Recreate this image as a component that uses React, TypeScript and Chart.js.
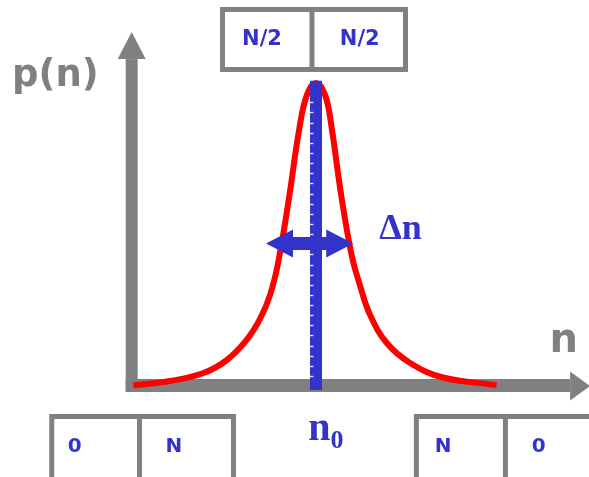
import { useEffect, useRef } from "react";
import { Chart, registerables } from "chart.js";

Chart.register(...registerables);

const WIDTH = 589;
const HEIGHT = 477;

// Probability distribution p(n), sampled along n
const nValues = [0, 10, 19, 25.5, 31, 34.7, 37.4, 39.6, 42.6, 45.3, 47.5, 50, 52.5, 54.2, 56.9, 59.8, 62.1, 64.8, 69.4, 75.8, 84.8, 99.5];
const pValues = [0.002, 0.0165, 0.042, 0.085, 0.152, 0.222, 0.3, 0.405, 0.62, 0.84, 0.96, 1.0, 0.96, 0.86, 0.63, 0.43, 0.33, 0.235, 0.142, 0.076, 0.028, 0.003];

// Most probable value n0 and the width Δn
const n0 = 50;
const deltaN = [36.3, 60.2];
const deltaNLevel = 0.47;

// Partition boxes: labels of the two halves
const topBoxLabels = ["N/2", "N/2"];
const leftBoxLabels = ["0", "N"];
const rightBoxLabels = ["N", "0"];

// Axis labels
const yAxisLabel = "p(n)";
const xAxisLabel = "n";
const widthLabel = "Δn";

const GRAY = "#808080";
const BLUE = "#3333CC";
const RED = "#FF0000";

// Scale windows (n horizontally, p vertically)
const N_MIN = -36.58;
const N_MAX = 124.8;
const P_MIN = -0.3003;
const P_MAX = 1.2739;

// Annotation placement, in (n, p) units
const AXIS_N = -0.5;
const Y_AXIS_TIP_P = 1.168;
const X_AXIS_TIP_N = 125.1;

type Box = { n1: number; n2: number; p1: number; p2: number; divN: number; textN: number[]; textP: number; labels: string[]; size: number };

const boxes: Box[] = [
  { n1: 24.38, n2: 74.52, p1: 1.2426, p2: 1.0446, divN: 48.9, textN: [35.2, 62.0], textP: 1.142, labels: topBoxLabels, size: 21 },
  { n1: -22.4, n2: 27.4, p1: -0.1007, p2: -0.33, divN: 1.64, textN: [-16.1, 11.04], textP: -0.2003, labels: leftBoxLabels, size: 20 },
  { n1: 77.5, n2: 128, p1: -0.1007, p2: -0.33, divN: 101.9, textN: [84.8, 111.0], textP: -0.2003, labels: rightBoxLabels, size: 20 },
];

const decorations = {
  id: "decorations",
  beforeDatasetsDraw(chart: any) {
    const ctx: CanvasRenderingContext2D = chart.ctx;
    const X = (v: number) => chart.scales.x.getPixelForValue(v);
    const Y = (v: number) => chart.scales.y.getPixelForValue(v);
    const ax = X(AXIS_N);
    const ay = Y(0);
    ctx.save();
    ctx.fillStyle = GRAY;
    // vertical axis with arrow head
    const yTip = Y(Y_AXIS_TIP_P);
    ctx.fillRect(ax - 6, yTip + 27, 12, ay + 6 - (yTip + 27));
    ctx.beginPath();
    ctx.moveTo(ax, yTip);
    ctx.lineTo(ax + 14, yTip + 27);
    ctx.lineTo(ax - 14, yTip + 27);
    ctx.closePath();
    ctx.fill();
    // horizontal axis with arrow head
    const xTip = X(X_AXIS_TIP_N);
    ctx.fillRect(ax - 6, ay - 7, xTip - 20 - (ax - 6), 13);
    ctx.beginPath();
    ctx.moveTo(xTip, ay);
    ctx.lineTo(xTip - 20, ay - 14.5);
    ctx.lineTo(xTip - 20, ay + 14.5);
    ctx.closePath();
    ctx.fill();

    // axis labels
    ctx.fillStyle = GRAY;
    ctx.textBaseline = "alphabetic";
    ctx.textAlign = "center";
    ctx.font = "bold 37px 'DejaVu Sans'";
    ctx.fillText(yAxisLabel, X(-21.4), Y(0.991));
    ctx.font = "bold 40px 'DejaVu Sans'";
    ctx.fillText(xAxisLabel, X(117.9), Y(0.113));

    // partition boxes
    ctx.strokeStyle = GRAY;
    ctx.lineWidth = 5;
    boxes.forEach((b) => {
      const x1 = X(b.n1), x2 = X(b.n2), y1 = Y(b.p1), y2 = Y(b.p2);
      ctx.strokeRect(x1, y1, x2 - x1, y2 - y1);
      ctx.beginPath();
      ctx.moveTo(X(b.divN), y1);
      ctx.lineTo(X(b.divN), y2);
      ctx.stroke();
      ctx.fillStyle = BLUE;
      ctx.font = `bold ${b.size}px 'DejaVu Sans'`;
      ctx.textAlign = "center";
      ctx.textBaseline = "middle";
      b.labels.forEach((t, i) => ctx.fillText(t, X(b.textN[i]), Y(b.textP)));
    });
    ctx.restore();
  },
  afterDatasetsDraw(chart: any) {
    const ctx: CanvasRenderingContext2D = chart.ctx;
    const X = (v: number) => chart.scales.x.getPixelForValue(v);
    const Y = (v: number) => chart.scales.y.getPixelForValue(v);
    ctx.save();
    // ruler marks along the n0 line
    const cx = X(n0);
    ctx.strokeStyle = "rgba(255,255,255,0.85)";
    ctx.lineWidth = 1.4;
    for (let p = 0.033; p < 0.95; p += 0.03345) {
      const y = Math.round(Y(p)) + 0.5;
      ctx.beginPath();
      ctx.moveTo(cx - 7, y);
      ctx.lineTo(cx - 2.5, y);
      ctx.stroke();
    }
    // double arrow for the width Δn
    const l = X(deltaN[0]);
    const r = X(deltaN[1]);
    const y = Y(deltaNLevel);
    const head = 27;
    const hh = 14;
    const sh = 6.5;
    ctx.fillStyle = BLUE;
    ctx.beginPath();
    ctx.moveTo(l, y);
    ctx.lineTo(l + head, y - hh);
    ctx.lineTo(l + head, y - sh);
    ctx.lineTo(r - head, y - sh);
    ctx.lineTo(r - head, y - hh);
    ctx.lineTo(r, y);
    ctx.lineTo(r - head, y + hh);
    ctx.lineTo(r - head, y + sh);
    ctx.lineTo(l + head, y + sh);
    ctx.lineTo(l + head, y + hh);
    ctx.closePath();
    ctx.fill();

    // Δn and n0 labels
    ctx.textAlign = "left";
    ctx.textBaseline = "alphabetic";
    ctx.font = "bold 36px 'Liberation Serif'";
    ctx.fillText(widthLabel, X(67.3), Y(0.484));
    ctx.font = "bold 40px 'Liberation Serif'";
    const nx = X(47.9);
    const ny = Y(-0.178);
    ctx.fillText("n", nx, ny);
    const w = ctx.measureText("n").width;
    ctx.font = "bold 26px 'Liberation Serif'";
    ctx.fillText("0", nx + w, ny + 8);
    ctx.restore();
  },
};

export default function App() {
  const ref = useRef<HTMLCanvasElement | null>(null);

  useEffect(() => {
    if (!ref.current) return;
    const curve = nValues.map((n, i) => ({ x: n, y: pValues[i] }));
    const chart = new Chart(ref.current, {
      type: "line",
      data: {
        datasets: [
          {
            label: "n0",
            data: [
              { x: n0, y: -0.013 },
              { x: n0, y: 1.007 },
            ],
            borderColor: BLUE,
            borderWidth: 12,
            borderCapStyle: "butt",
            pointRadius: 0,
            order: 0,
          },
          {
            label: "p(n)",
            data: curve,
            borderColor: RED,
            borderWidth: 6,
            tension: 0.4,
            pointRadius: 0,
            fill: false,
            order: 1,
          },
        ],
      },
      options: {
        animation: false,
        responsive: false,
        devicePixelRatio: 1,
        layout: { padding: 0 },
        plugins: { legend: { display: false }, tooltip: { enabled: false } },
        scales: {
          x: { type: "linear", min: N_MIN, max: N_MAX, display: false },
          y: { type: "linear", min: P_MIN, max: P_MAX, display: false },
        },
      },
      plugins: [decorations],
    });
    return () => chart.destroy();
  }, []);

  return (
    <div style={{ position: "fixed", left: 0, top: 0, width: WIDTH, height: HEIGHT, background: "#fff" }}>
      <canvas ref={ref} width={WIDTH} height={HEIGHT} style={{ display: "block" }} />
    </div>
  );
}
